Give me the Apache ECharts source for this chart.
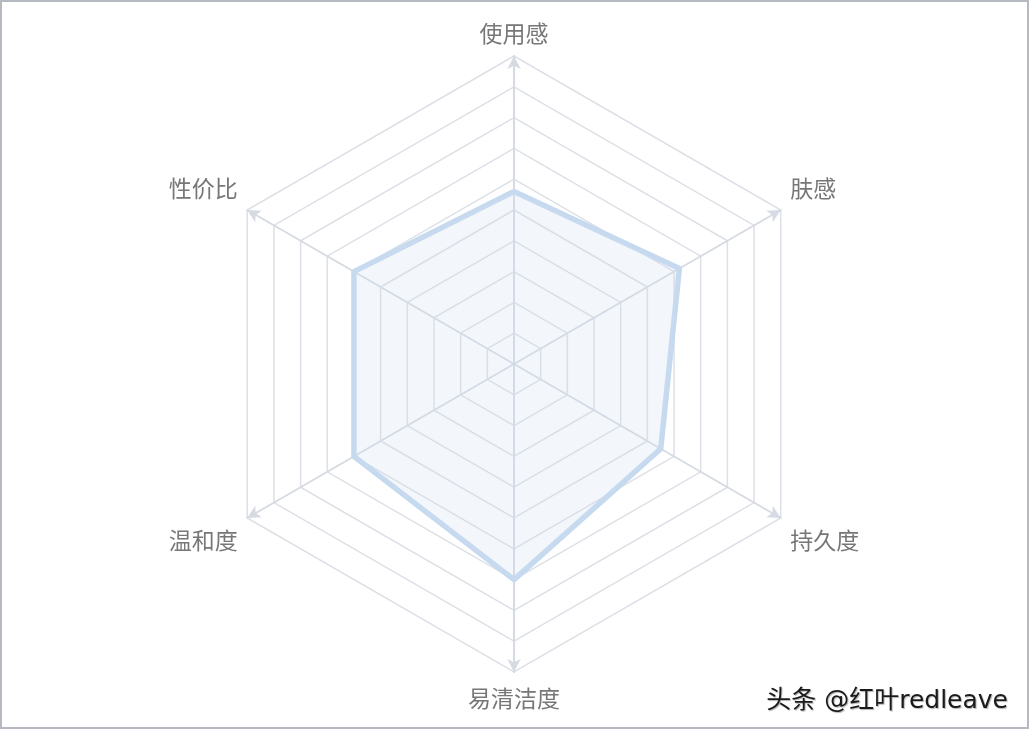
<!DOCTYPE html>
<html>
<head>
<meta charset="utf-8">
<script src="https://cdn.jsdelivr.net/npm/echarts@6/dist/echarts.min.js"></script>
<style>
    html, body { margin: 0; padding: 0; background: #fff; }
    #main { width: 1030px; height: 730px; }
</style>
</head>
<body>
<div id="main"></div>
<script>
// indicators go counterclockwise from the top
const indicatorNames = ['使用感', '性价比', '温和度', '易清洁度', '持久度', '肤感']
const scores = [5.6, 6.0, 6.0, 7.0, 5.5, 6.2]
const maxScore = 10

// which label style each indicator uses (top / upper sides / lower sides / bottom)
const labelKind = ['top', 'up', 'down', 'bot', 'down', 'up']

var chartDom = document.getElementById('main')
var myChart = echarts.init(chartDom)
var option

const nameFont = { color: '#777777', fontSize: 23, fontFamily: 'Noto Sans CJK SC' }

option = {
    backgroundColor: '#fff',
    animation: false,
    graphic: [
        {
            type: 'rect',
            shape: { x: 1, y: 1, width: 1027, height: 727 },
            style: { fill: 'none', stroke: '#b5bac1', lineWidth: 2 },
        },
        {
            type: 'text',
            right: 22,
            top: 689,
            style: {
                text: '头条 @红叶redleave',
                fill: '#1a1a1a',
                font: '25px "DejaVu Sans", "Noto Sans CJK SC"',
                textShadowColor: 'rgba(160,160,160,0.8)',
                textShadowBlur: 1,
                textShadowOffsetX: 1,
                textShadowOffsetY: 1,
            },
        },
    ],
    radar: {
        center: [514, 364],
        radius: 308,
        splitNumber: 10,
        indicator: indicatorNames.map((n) => ({ name: n, max: maxScore })),
        axisName: {
            formatter: (name) => {
                let k = labelKind[indicatorNames.indexOf(name)]
                return '{' + k + '|' + name + '}'
            },
            rich: {
                top: Object.assign({ padding: [0, 0, 0, 0] }, nameFont),
                up: Object.assign({ padding: [0, 0, 33, 0] }, nameFont),
                down: Object.assign({ padding: [33, 0, 0, 0] }, nameFont),
                bot: Object.assign({ padding: [4, 0, 0, 0] }, nameFont),
            },
        },
        nameGap: 11,
        axisLine: {
            symbol: ['none', 'arrow'],
            symbolSize: [10, 13],
            lineStyle: { color: '#d6dbe3', width: 2 },
        },
        splitLine: {
            lineStyle: { color: '#dde0e6', width: 1.5 },
        },
        splitArea: { show: false },
    },
    series: [
        {
            type: 'radar',
            symbol: 'none',
            data: [
                {
                    value: scores,
                    lineStyle: { color: '#c5d9ef', width: 5.5 },
                    areaStyle: { color: 'rgba(205, 222, 240, 0.35)' },
                },
            ],
        },
    ],
}
option && myChart.setOption(option)
</script>
</body>
</html>
